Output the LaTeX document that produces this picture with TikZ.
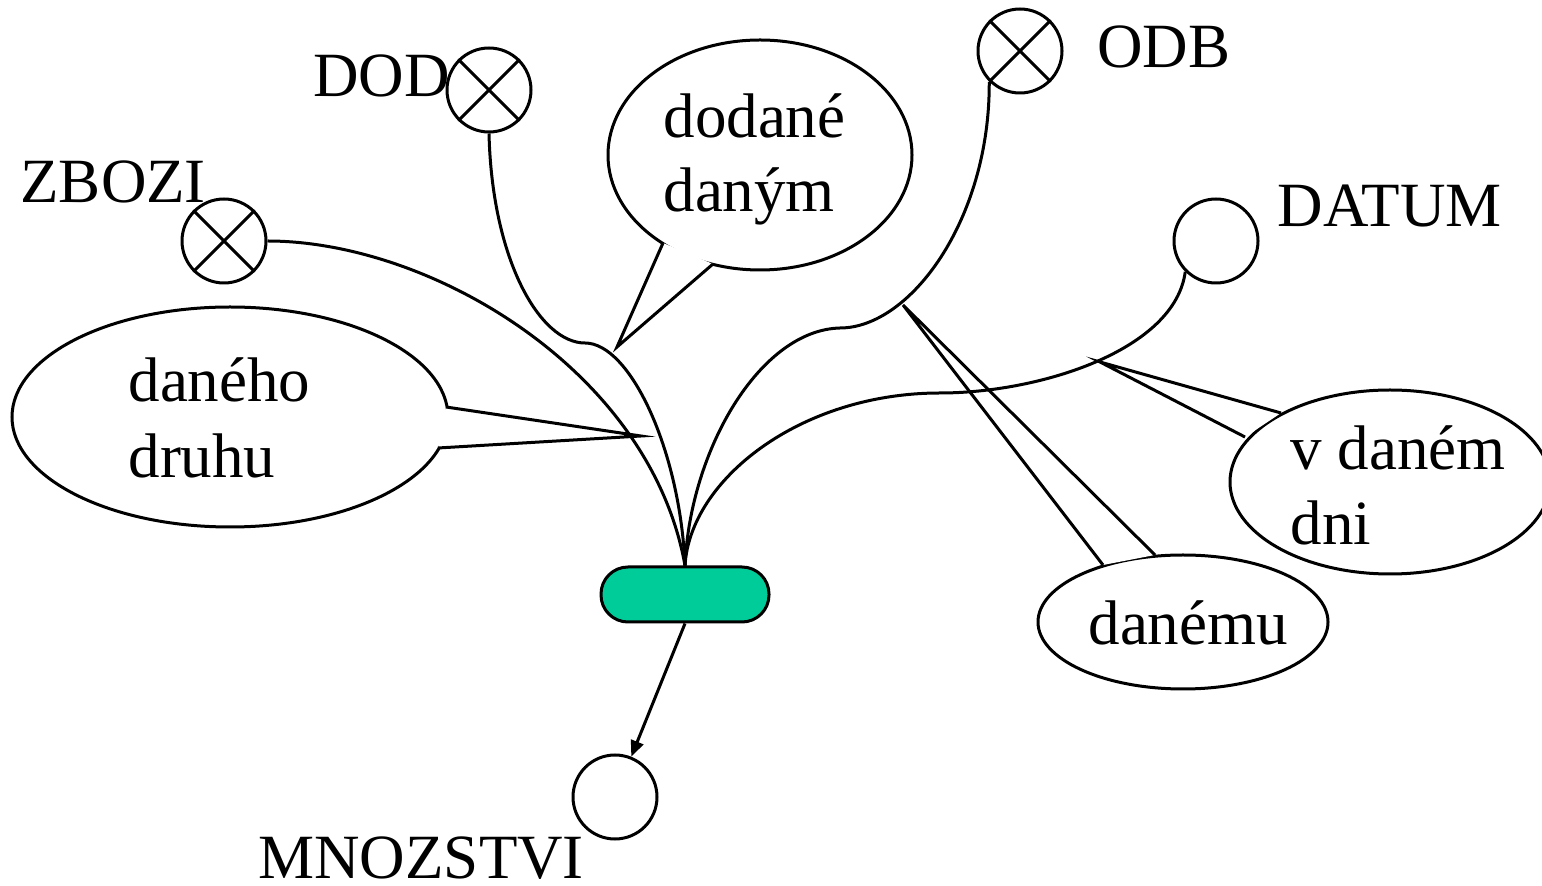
\documentclass[tikz,border=0pt]{standalone}
\usepackage{fontspec}
\setmainfont{Liberation Serif}
\usetikzlibrary{arrows.meta,shapes.geometric}
\definecolor{boxgreen}{RGB}{0,204,153}
\begin{document}
\begin{tikzpicture}[x=0.5pt,y=-0.5pt, line width=1.5pt,
  ent/.style={circle,draw,minimum size=42pt,inner sep=0pt},
  lbl/.style={anchor=base west,inner sep=0pt,font=\fontsize{31.5pt}{38pt}\selectfont},
  rel/.style={draw,fill=boxgreen,rounded corners=13.5pt,minimum width=84pt,minimum height=27.5pt,inner sep=0pt},
  bubble/.style={ellipse,draw,inner sep=0pt},
  conn/.style={line width=1.5pt},
  ptrfill/.style={fill=white,draw=none},
  ptr/.style={line width=1.5pt}]
\useasboundingbox (0,0) rectangle (1542,886);

% entity circles
\node[ent] (zbozi) at (224,241) {};
\node[ent] (dod) at (489,90) {};
\node[ent] (odb) at (1020,51) {};
\node[ent] (datum) at (1216,241) {};
\node[ent] (mnoz) at (615,797) {};
\foreach \n in {zbozi,dod,odb}{
  \draw (\n.north west) -- (\n.south east);
  \draw (\n.north east) -- (\n.south west);
}

% labels
\node[lbl] (lzbozi) at (19,203) {ZBOZI};
\node[lbl] (ldod) at (312,97) {DOD};
\node[lbl] (lodb) at (1096,68) {ODB};
\node[lbl] (ldatum) at (1276,227) {DATUM};
\node[lbl] (lmnoz) at (257,878) {MNOZSTVI};

% relationship box
\node[rel] (rel) at (685,594.5) {};

% callouts
\node[bubble,minimum width=152pt,minimum height=115pt] (c1) at (760,155) {};
\coordinate (c1a) at (663,243); \coordinate (c1b) at (713,264); \coordinate (c1t) at (617,347);
\fill[ptrfill] (c1a) -- (c1t) -- (c1b) -- cycle;
\draw[ptr] (c1a) -- (c1t) -- (c1b);
\node[lbl] (t1a) at (662,138) {dodané};
\node[lbl] (t1b) at (662,212) {daným};

\node[bubble,minimum width=218pt,minimum height=110pt] (c2) at (230,417) {};
\coordinate (c2a) at (446,407); \coordinate (c2b) at (438,448); \coordinate (c2t) at (641,436);
\fill[ptrfill] (c2a) -- (c2t) -- (c2b) -- cycle;
\draw[ptr] (c2a) -- (c2t) -- (c2b);
\node[lbl] (t2a) at (127,402) {daného};
\node[lbl] (t2b) at (127,478) {druhu};

\node[bubble,minimum width=145pt,minimum height=67pt] (c3) at (1183,622) {};
\coordinate (c3a) at (1103,565); \coordinate (c3b) at (1155,555); \coordinate (c3t) at (903,305);
\fill[ptrfill] (c3a) -- (c3t) -- (c3b) -- cycle;
\draw[ptr] (c3a) -- (c3t) -- (c3b);
\node[lbl] (t3) at (1087,645) {danému};

\node[bubble,minimum width=160pt,minimum height=92pt] (c4) at (1390,482) {};
\coordinate (c4a) at (1281,413); \coordinate (c4b) at (1245,437); \coordinate (c4t) at (1100,362);
\fill[ptrfill] (c4a) -- (c4t) -- (c4b) -- cycle;
\draw[ptr] (c4a) -- (c4t) -- (c4b);
\node[lbl] (t4a) at (1289,470) {v daném};
\node[lbl] (t4b) at (1289,545) {dni};

% connectors
\coordinate (m1) at (585,343);
\coordinate (m2) at (840,328);
\coordinate (m3) at (940,393);
\draw[conn] (zbozi.east) .. controls (430,241) and (650,370) .. (rel.north);
\draw[conn] (dod.south) .. controls (492,260) and (540,343) .. (m1)
  .. controls (630,343) and (680,450) .. (rel.north);
\draw[conn] (odb.south west) .. controls (990,220) and (910,328) .. (m2)
  .. controls (760,330) and (690,450) .. (rel.north);
\draw[conn] (datum.south west) .. controls (1175,350) and (1040,393) .. (m3)
  .. controls (800,393) and (690,480) .. (rel.north);

\draw[conn,-{Triangle[length=8pt,width=6.5pt]}] (rel.south) -- (mnoz);
\end{tikzpicture}
\end{document}
